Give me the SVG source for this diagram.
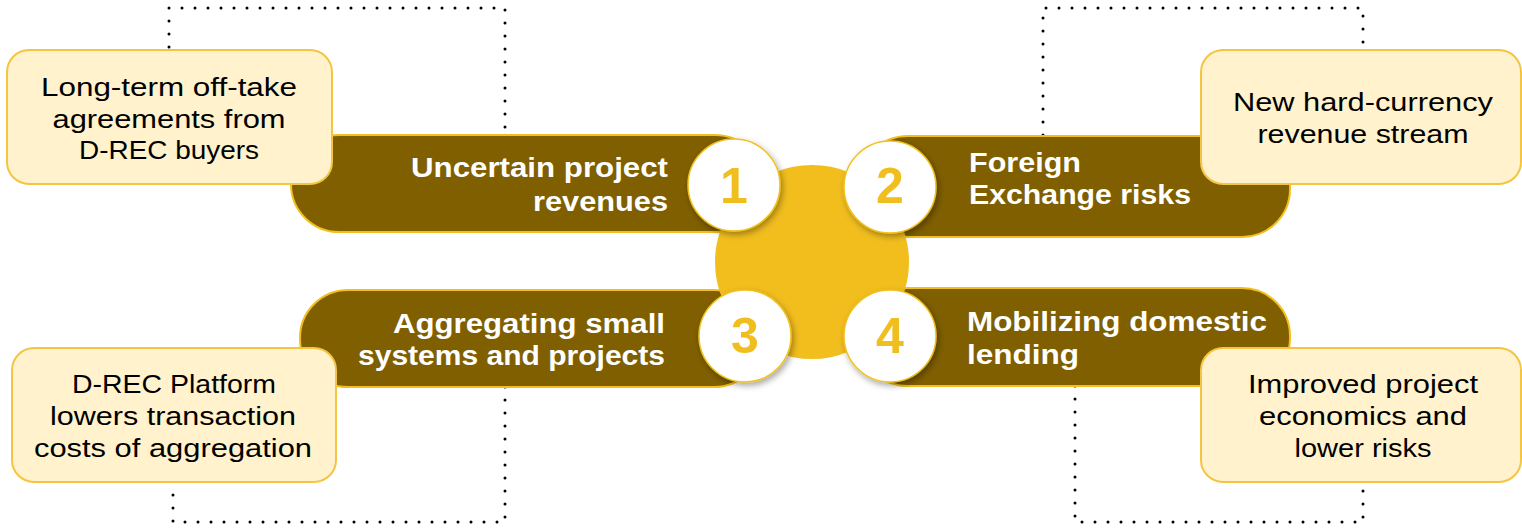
<svg xmlns="http://www.w3.org/2000/svg" width="1522" height="528" viewBox="0 0 1522 528">
<defs>
<style>
.dot{fill:none;stroke:#000;stroke-width:3;stroke-dasharray:0 13;stroke-linecap:round}
.pill{fill:#7F5F00;stroke:#F2C01E;stroke-width:2}
.box{fill:#FFF2CC;stroke:#F4C542;stroke-width:2}
.bt{font-family:"Liberation Sans",Arial,sans-serif;font-size:26px;fill:#000;text-anchor:middle}
.pt{font-family:"Liberation Sans",Arial,sans-serif;font-weight:700;font-size:27px;fill:#fff}
.num{font-family:"Liberation Sans",Arial,sans-serif;font-weight:700;font-size:50px;fill:#F0BE1E;text-anchor:middle}
.nc{fill:#fff;stroke:#F2C01E;stroke-width:1.5}
</style>
<filter id="sh" x="-30%" y="-30%" width="160%" height="160%">
<feDropShadow dx="2" dy="3" stdDeviation="3" flood-color="#000" flood-opacity="0.35"/>
</filter>
</defs>
<rect width="1522" height="528" fill="#fff"/>
<g id="connectors">
<path class="dot" d="M169,47 V8 H505 V135"/>
<path class="dot" d="M1043,135 V8 H1363 V48"/>
<path class="dot" d="M505,387 V522 H173 V482"/>
<path class="dot" d="M1075,386 V522 H1363 V482"/>
</g>
<g id="pill1"><rect class="pill" x="291" y="135" width="472" height="97" rx="48"/></g>
<g id="pill2"><rect class="pill" x="860" y="136" width="430" height="101" rx="48"/></g>
<g id="pill3"><rect class="pill" x="300" y="290" width="462" height="97" rx="48"/></g>
<g id="pill4"><rect class="pill" x="860" y="288" width="430" height="98" rx="48"/></g>
<g id="center"><circle cx="812" cy="262" r="97" fill="#F2BE1E"/></g>
<g id="n1"><circle class="nc" cx="734" cy="185" r="46" filter="url(#sh)"/><text class="num" x="734" y="203">1</text></g>
<g id="n2"><circle class="nc" cx="890" cy="187" r="46" filter="url(#sh)"/><text class="num" x="890" y="203">2</text></g>
<g id="n3"><circle class="nc" cx="745" cy="336" r="46" filter="url(#sh)"/><text class="num" x="745" y="353">3</text></g>
<g id="n4"><circle class="nc" cx="890" cy="336" r="46" filter="url(#sh)"/><text class="num" x="890" y="353">4</text></g>
<g id="t1">
<text class="pt" x="668" y="177" text-anchor="end" textLength="257" lengthAdjust="spacingAndGlyphs">Uncertain project</text>
<text class="pt" x="668" y="211" text-anchor="end" textLength="135" lengthAdjust="spacingAndGlyphs">revenues</text>
</g>
<g id="t2">
<text class="pt" x="969" y="172" textLength="112" lengthAdjust="spacingAndGlyphs">Foreign</text>
<text class="pt" x="969" y="204" textLength="222" lengthAdjust="spacingAndGlyphs">Exchange risks</text>
</g>
<g id="t3">
<text class="pt" x="665" y="333" text-anchor="end" textLength="272" lengthAdjust="spacingAndGlyphs">Aggregating small</text>
<text class="pt" x="665" y="365" text-anchor="end" textLength="307" lengthAdjust="spacingAndGlyphs">systems and projects</text>
</g>
<g id="t4">
<text class="pt" x="967" y="331" textLength="300" lengthAdjust="spacingAndGlyphs">Mobilizing domestic</text>
<text class="pt" x="967" y="364" textLength="112" lengthAdjust="spacingAndGlyphs">lending</text>
</g>
<g id="box1">
<rect class="box" x="7" y="50" width="325" height="134" rx="22"/>
<text class="bt" x="169" y="96" textLength="256" lengthAdjust="spacingAndGlyphs">Long-term off-take</text>
<text class="bt" x="169" y="128" textLength="233" lengthAdjust="spacingAndGlyphs">agreements from</text>
<text class="bt" x="169" y="159" textLength="180" lengthAdjust="spacingAndGlyphs">D-REC buyers</text>
</g>
<g id="box2">
<rect class="box" x="1201" y="50" width="320" height="134" rx="22"/>
<text class="bt" x="1363" y="111" textLength="260" lengthAdjust="spacingAndGlyphs">New hard-currency</text>
<text class="bt" x="1363" y="143" textLength="211" lengthAdjust="spacingAndGlyphs">revenue stream</text>
</g>
<g id="box3">
<rect class="box" x="12" y="348" width="324" height="134" rx="22"/>
<text class="bt" x="174" y="393" textLength="204" lengthAdjust="spacingAndGlyphs">D-REC Platform</text>
<text class="bt" x="173" y="425" textLength="246" lengthAdjust="spacingAndGlyphs">lowers transaction</text>
<text class="bt" x="173" y="457" textLength="278" lengthAdjust="spacingAndGlyphs">costs of aggregation</text>
</g>
<g id="box4">
<rect class="box" x="1201" y="348" width="320" height="134" rx="22"/>
<text class="bt" x="1363" y="393" textLength="230" lengthAdjust="spacingAndGlyphs">Improved project</text>
<text class="bt" x="1363" y="425" textLength="208" lengthAdjust="spacingAndGlyphs">economics and</text>
<text class="bt" x="1363" y="457" textLength="137" lengthAdjust="spacingAndGlyphs">lower risks</text>
</g>
</svg>
